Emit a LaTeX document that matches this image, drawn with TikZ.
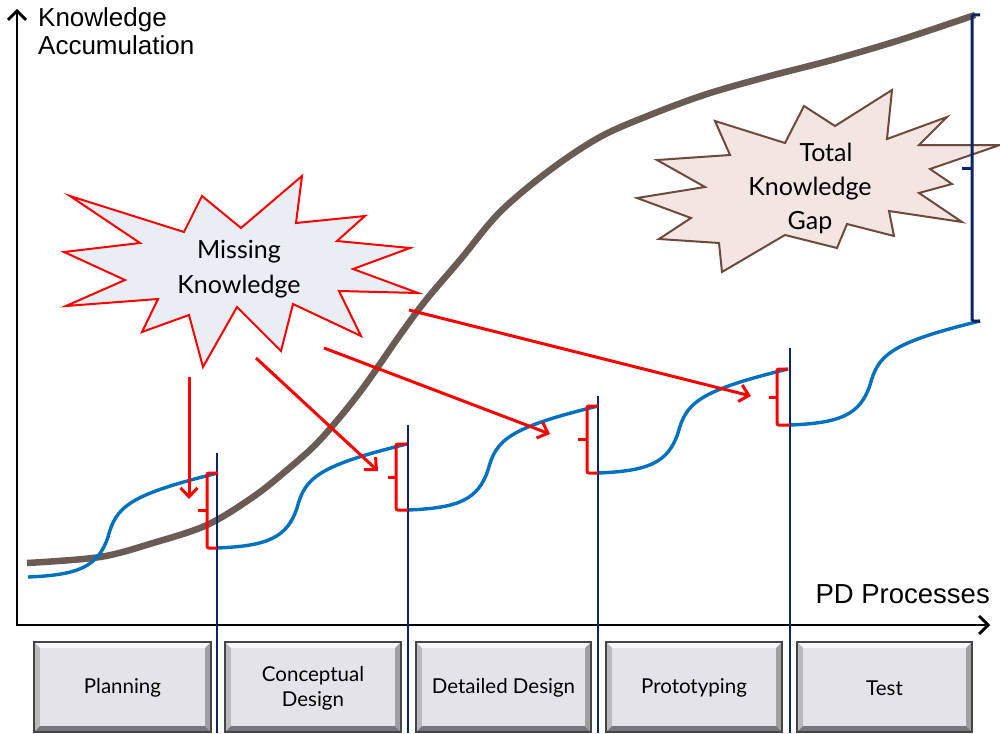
\documentclass[tikz,border=0pt]{standalone}
\usepackage{fontspec}
\setmainfont{Lato}
\newfontfamily\axisfont{Liberation Sans}
\usetikzlibrary{arrows.meta,calc}

\definecolor{curvebrown}{HTML}{6B5B55}
\definecolor{stepblue}{HTML}{0070C0}
\definecolor{phasenavy}{HTML}{0B2466}
\definecolor{burstblue}{HTML}{E9EEF4}
\definecolor{burstpink}{HTML}{F2E5E2}
\definecolor{burstedge}{HTML}{6E4A3C}
\definecolor{facegray}{HTML}{E3E3E9}
\definecolor{bevlight}{HTML}{F7F7F9}
\definecolor{bevside}{HTML}{B9B9BE}
\definecolor{bevright}{HTML}{9E9EA3}
\definecolor{bevdark}{HTML}{77777B}
\definecolor{boxedge}{HTML}{454548}

% bevelled phase button: name, left x, right x, label
\newcommand{\phasebox}[4]{%
  \fill[bevlight] (#2,642) -- (#3,642) -- (#3-6,648) -- (#2+6,648) -- cycle;
  \fill[bevside]  (#2,642) -- (#2+6,648) -- (#2+6,726) -- (#2,732) -- cycle;
  \fill[bevright] (#3,642) -- (#3-6,648) -- (#3-6,726) -- (#3,732) -- cycle;
  \fill[bevdark]  (#2,732) -- (#2+6,726) -- (#3-6,726) -- (#3,732) -- cycle;
  \fill[facegray] (#2+6,648) rectangle (#3-6,726);
  \draw[boxedge, line width=1.2pt] (#2,642) rectangle (#3,732);
  \node[boxtext] (#1) at ({(#2+#3)/2},688) {#4};%
}

\begin{document}
\begin{tikzpicture}[x=1pt,y=-1pt,
  axisline/.style={black, line width=2.8pt, -{Straight Barb[length=9pt,width=18pt]}},
  axislabel/.style={font=\axisfont\fontsize{26}{30}\selectfont, inner sep=0pt},
  knowcurve/.style={curvebrown, line width=6.5pt},
  stepline/.style={stepblue, line width=3.4pt},
  phaseline/.style={phasenavy, line width=1.9pt},
  gapbracket/.style={phasenavy, line width=3pt, rounded corners=1.5pt},
  redbracket/.style={red, line width=3pt, rounded corners=2pt},
  redarrow/.style={red, line width=3pt, -{Straight Barb[length=9pt,width=17pt]}},
  burstlabel/.style={font=\fontsize{25}{30}\selectfont, inner sep=0pt, anchor=base},
  boxtext/.style={font=\fontsize{20.5}{25}\selectfont, align=center, inner sep=0pt}]

\useasboundingbox (0,0) rectangle (1000,733);

% axes
\coordinate (origin) at (17,625);
\coordinate (ytip) at (17,9);
\coordinate (xtip) at (990,625);
\draw[axisline] (origin) -- (ytip);
\draw[axisline] ([xshift=-1.4pt]origin) -- (xtip);
\node[axislabel, anchor=base west] (ylab1) at (38,27) {Knowledge};
\node[axislabel, anchor=base west] (ylab2) at (38,55) {Accumulation};
\node[axislabel, anchor=base east, font=\axisfont\fontsize{27.5}{30}\selectfont] (xlab) at (990,603) {PD Processes};

% phase buttons
\phasebox{plan}{34}{211}{Planning}
\phasebox{concept}{225}{401}{Conceptual\\Design}
\phasebox{detail}{416}{591}{Detailed Design}
\phasebox{proto}{606}{782}{Prototyping}
\phasebox{test}{797}{972}{Test}

% total knowledge curve
\draw[knowcurve] plot[smooth, tension=0.55] coordinates {
  (27,563) (100,557) (153,543) (207,525) (253,497) (287,470) (320,440)
  (360,392) (400,335) (426,300) (460,260) (500,212) (550,170) (600,137)
  (650,115) (707,94) (770,76) (832,60) (900,40) (975,15)};

% bursts
\draw[red, line width=2pt, fill=burstblue, line join=miter]
  (70,196) -- (184,232) -- (202,196) -- (241,228) -- (302,176) -- (296,223)
  -- (365,216) -- (337,241) -- (410,248) -- (353,269) -- (418,293) -- (339,291)
  -- (361,336) -- (293,304) -- (281,351) -- (237,307) -- (203,367) -- (189,315)
  -- (142,332) -- (158,299) -- (66,306) -- (125,280) -- (64,252) -- (140,243) -- cycle;
\node[burstlabel] (miss1) at (239,258) {Missing};
\node[burstlabel] (miss2) at (239,293) {Knowledge};

\draw[burstedge, line width=2pt, fill=burstpink, line join=miter]
  (715,121) -- (785,143) -- (804,106) -- (835,126) -- (892,90) -- (887,139)
  -- (947,117) -- (919,145) -- (1000,145) -- (930,169) -- (952,184) -- (919,193)
  -- (962,222) -- (889,211) -- (894,236) -- (847,224) -- (837,248) -- (785,235)
  -- (722,272) -- (719,243) -- (659,239) -- (691,218) -- (637,198) -- (705,187)
  -- (657,160) -- (730,155) -- cycle;
\node[burstlabel] (gap1) at (826,161) {Total};
\node[burstlabel] (gap2) at (810,195) {Knowledge};
\node[burstlabel] (gap3) at (810,229) {Gap};

% stepwise acquired knowledge, one step per phase
\foreach \i/\x/\y in {1/28/577, 2/217/548, 3/408/510, 4/598/473, 5/790/425} {
  \coordinate (s\i) at (\x,\y);
  \coordinate (e\i) at (\x+190,\y-104);
  \draw[stepline, shift={(\x,\y)}] (0,0) .. controls (50,-2) and (70,-10) .. (80,-40)
    .. controls (88,-70) and (100,-82) .. (190,-104);
}

% phase boundaries
\foreach \i/\x/\t in {1/217/453, 2/408/425, 3/598/396, 4/790/348} {
  \coordinate (ptop\i) at (\x,\t);
  \coordinate (pbot\i) at (\x,733);
  \draw[phaseline] (ptop\i) -- (pbot\i);
}

% gap between the curves at the end
\coordinate (gaptop) at (980,15);
\draw[gapbracket] (gaptop) -- (972,15) -- (972,321) -- (e5);
\draw[gapbracket] (972,168) -- (962,168);

% missing knowledge per phase
\foreach \i/\j in {1/2, 2/3, 3/4, 4/5} {
  \draw[redbracket] (e\i) -- ([xshift=-11pt]e\i) |- (s\j);
  \draw[redbracket] ($($(e\i)!0.5!(s\j)$)+(-11,0)$) -- ++(-9,0);
}

% arrows from the burst
\coordinate (a1) at (189,377); \coordinate (b1) at (189,499);
\coordinate (a2) at (256,358); \coordinate (b2) at (378,471);
\coordinate (a3) at (324,348); \coordinate (b3) at (550,434);
\coordinate (a4) at (409,310); \coordinate (b4) at (751,396);
\foreach \i in {1,...,4} { \draw[redarrow] (a\i) -- (b\i); }

\end{tikzpicture}
\end{document}
